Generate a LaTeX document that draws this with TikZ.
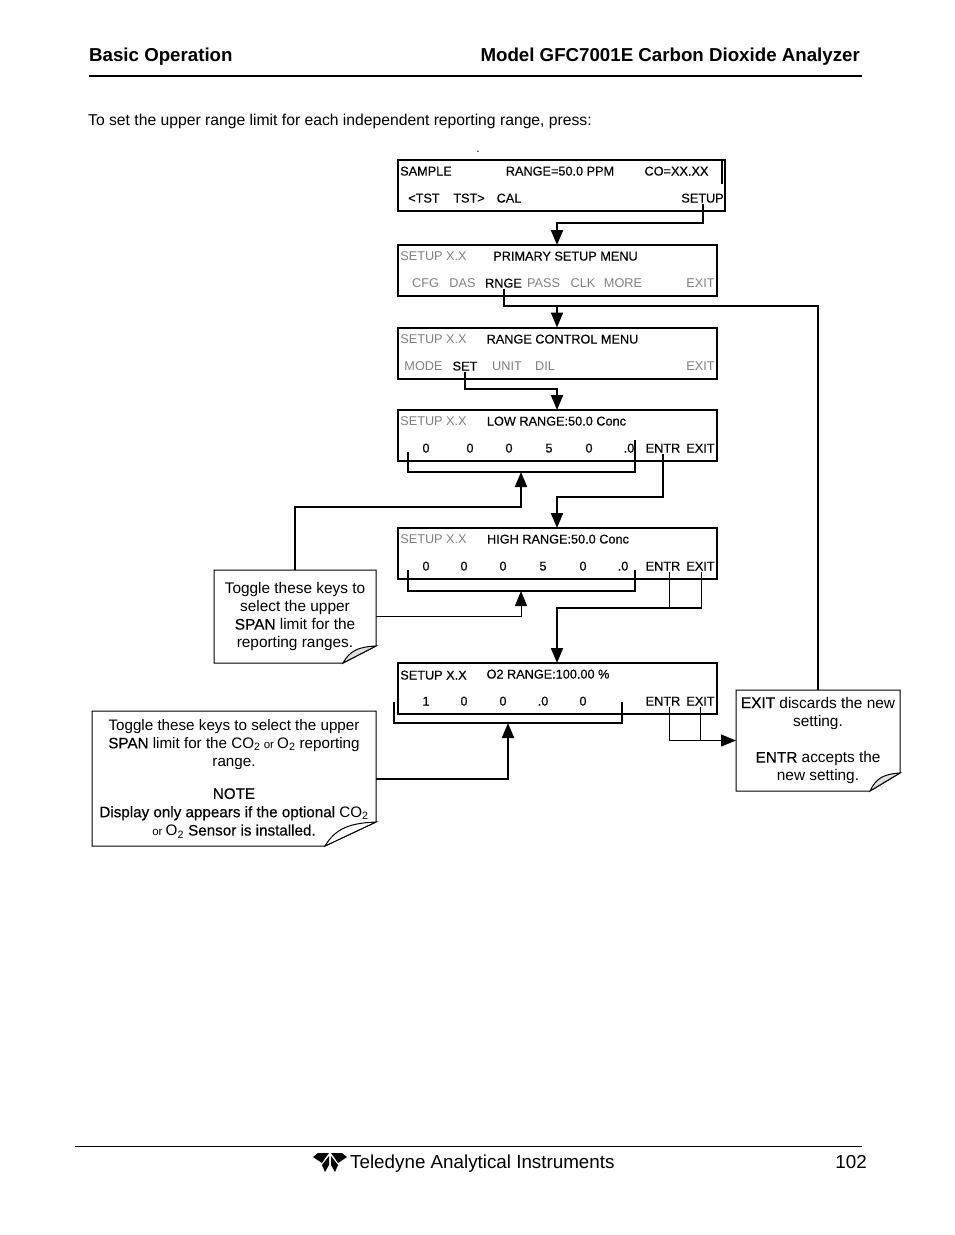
\documentclass[tikz,border=0pt]{standalone}
\usepackage{fontspec}
\setmainfont{Liberation Sans}
\newfontface\heavy[FakeBold=0.4]{Liberation Sans}
\usetikzlibrary{arrows.meta}
\definecolor{lcdgray}{gray}{0.5}
\tikzset{
    lcdbox/.style={draw,line width=2pt,anchor=north west,minimum width=319pt,minimum height=51pt,inner sep=0pt,outer sep=0pt},
    lcdkey/.style={anchor=base,inner sep=0pt,outer sep=1.5pt,font=\fontsize{12.7}{14}\selectfont\heavy},
    lcdoff/.style={anchor=base,inner sep=0pt,outer sep=1.5pt,font=\fontsize{12.7}{14}\selectfont,text=lcdgray},
    wire/.style={line width=2pt},
    thinwire/.style={line width=1pt},
    tip/.style={-{Triangle[width=12pt,length=15pt]}},
    notebox/.style={align=center,inner sep=0pt,outer sep=0pt,font=\fontsize{15.4}{18.3}\selectfont},
}
\newcommand{\foldnote}[4]{%
    \draw[line width=1pt] (#1.north west) -- (#1.north east) -- ([yshift=#3]#1.south east)
        -- ([xshift=-#2]#1.south east) -- (#1.south west) -- cycle;
    \draw[line width=1pt,fill=#4] ([yshift=#3]#1.south east) .. controls ([xshift=-#2*0.55,yshift=#3*0.95]#1.south east)
        and ([xshift=-#2*0.8,yshift=#3*0.7]#1.south east) .. ([xshift=-#2]#1.south east) -- cycle;
}
\begin{document}
\begin{tikzpicture}[x=1pt,y=-1pt]
    \useasboundingbox (0,0) rectangle (954,1235);
    % header and footer
    \node[anchor=base west,inner sep=0pt,font=\fontsize{18.7}{20}\selectfont\bfseries] (pagehead) at (89,61) {Basic Operation};
    \node[anchor=base east,inner sep=0pt,font=\fontsize{18.7}{20}\selectfont\bfseries] (modelhead) at (860,61) {Model GFC7001E Carbon Dioxide Analyzer};
    \draw[line width=1.5pt] (89,76) -- (862,76);
    \node[anchor=base west,inner sep=0pt,font=\fontsize{15.7}{18}\selectfont] (intro) at (88,125) {To set the upper range limit for each independent reporting range, press:};
    \node[anchor=base,inner sep=0pt,font=\fontsize{12}{14}\selectfont] (dot) at (478,152) {.};
    \draw[line width=1pt] (75,1146) -- (862,1146);
    \fill (329,1153) -- (318,1153) -- (313,1157) -- (322,1163) -- (326,1157) -- cycle;
    \fill (331,1153) -- (342,1153) -- (347,1157) -- (338,1163) -- (334,1157) -- cycle;
    \fill (329,1156) -- (322,1165) -- (325,1172) -- (329,1165) -- cycle;
    \fill (331,1156) -- (338,1165) -- (335,1172) -- (331,1165) -- cycle;
    \node[anchor=base west,inner sep=0pt,font=\fontsize{18.8}{20}\selectfont] (company) at (350,1168) {Teledyne Analytical Instruments};
    \node[anchor=base east,inner sep=0pt,font=\fontsize{18.8}{20}\selectfont] (pageno) at (867,1168) {102};

    % displays
    \node[lcdbox,minimum width=327pt] (sample) at (398,160) {};
    \node[lcdbox] (primary) at (398,245) {};
    \node[lcdbox] (control) at (398,327.5) {};
    \node[lcdbox] (lowrange) at (398,410) {};
    \node[lcdbox] (highrange) at (398,528) {};
    \node[lcdbox] (otworange) at (398,663) {};
    \draw[wire] ([xshift=-3pt]sample.north east) -- ++(0,24);

    % sample display
    \node[lcdkey] (samplename) at (426,175.5) {SAMPLE};
    \node[lcdkey] (samplerange) at (560,175.5) {RANGE=50.0 PPM};
    \node[lcdkey] (sampleco) at (676.5,175.5) {CO=XX.XX};
    \node[lcdkey] (keytstl) at (424,202.5) {<TST};
    \node[lcdkey] (keytstr) at (469,202.5) {TST>};
    \node[lcdkey] (keycal) at (509,202.5) {CAL};
    \node[lcdkey] (keysetup) at (702.5,202.5) {SETUP};

    % primary setup display
    \node[lcdoff] (primaryname) at (433.5,260.5) {SETUP X.X};
    \node[lcdkey] (primarytitle) at (565.5,260.5) {PRIMARY SETUP MENU};
    \node[lcdoff] (keycfg) at (425.5,287.5) {CFG};
    \node[lcdoff] (keydas) at (462.5,287.5) {DAS};
    \node[lcdkey] (keyrnge) at (503.5,287.5) {RNGE};
    \node[lcdoff] (keypass) at (543.5,287.5) {PASS};
    \node[lcdoff] (keyclk) at (583,287.5) {CLK};
    \node[lcdoff] (keymore) at (623,287.5) {MORE};
    \node[lcdoff] (keyexita) at (700.5,287.5) {EXIT};

    % range control display
    \node[lcdoff] (controlname) at (433.5,343.5) {SETUP X.X};
    \node[lcdkey] (controltitle) at (562.5,343.5) {RANGE CONTROL MENU};
    \node[lcdoff] (keymode) at (423.5,370.5) {MODE};
    \node[lcdkey] (keyset) at (465,370.5) {SET};
    \node[lcdoff] (keyunit) at (507,370.5) {UNIT};
    \node[lcdoff] (keydil) at (545,370.5) {DIL};
    \node[lcdoff] (keyexitb) at (700.5,370.5) {EXIT};

    % low range display
    \node[lcdoff] (lowname) at (433.5,425.5) {SETUP X.X};
    \node[lcdkey] (lowtitle) at (556.5,425.5) {LOW RANGE:50.0 Conc};
    \node[lcdkey] (lowa) at (426,452.5) {0};
    \node[lcdkey] (lowb) at (470,452.5) {0};
    \node[lcdkey] (lowc) at (509,452.5) {0};
    \node[lcdkey] (lowd) at (549,452.5) {5};
    \node[lcdkey] (lowe) at (589,452.5) {0};
    \node[lcdkey] (lowf) at (629,452.5) {.0};
    \node[lcdkey] (keyentrl) at (663,452.5) {ENTR};
    \node[lcdkey] (keyexitl) at (700.5,452.5) {EXIT};

    % high range display
    \node[lcdoff] (highname) at (433.5,543.5) {SETUP X.X};
    \node[lcdkey] (hightitle) at (558,543.5) {HIGH RANGE:50.0 Conc};
    \node[lcdkey] (higha) at (426,570.5) {0};
    \node[lcdkey] (highb) at (464,570.5) {0};
    \node[lcdkey] (highc) at (503,570.5) {0};
    \node[lcdkey] (highd) at (543,570.5) {5};
    \node[lcdkey] (highe) at (583,570.5) {0};
    \node[lcdkey] (highf) at (623,570.5) {.0};
    \node[lcdkey] (keyentrh) at (663,570.5) {ENTR};
    \node[lcdkey] (keyexith) at (700.5,570.5) {EXIT};

    % o2 range display
    \node[lcdkey] (otwoname) at (433.5,679.5) {SETUP X.X};
    \node[lcdkey] (otwotitle) at (548,678.5) {O2 RANGE:100.00 \%};
    \node[lcdkey] (otwoa) at (426,705.5) {1};
    \node[lcdkey] (otwob) at (464,705.5) {0};
    \node[lcdkey] (otwoc) at (503,705.5) {0};
    \node[lcdkey] (otwod) at (543,705.5) {.0};
    \node[lcdkey] (otwoe) at (583,705.5) {0};
    \node[lcdkey] (keyentro) at (663,705.5) {ENTR};
    \node[lcdkey] (keyexito) at (700.5,705.5) {EXIT};

    % notes
    \node[notebox,minimum width=162pt,minimum height=93pt] (spannote) at (295,616.5) {Toggle these keys to\\select the upper\\{\heavy SPAN} limit for the\\reporting ranges.};
    \node[notebox,font=\fontsize{15.2}{18.3}\selectfont,minimum width=284pt,minimum height=135pt] (rangenote) at (234,778.5) {Toggle these keys to select the upper\\{\heavy SPAN} limit for the CO\textsubscript{2}{\fontsize{11.5}{12}\selectfont\ or }O\textsubscript{2} reporting\\range.\\[14pt]{\heavy NOTE}\\{\heavy Display only appears if the optional} CO\textsubscript{2}\\{\fontsize{11.5}{12}\selectfont or }O\textsubscript{2} {\heavy Sensor is installed.}};
    \node[notebox,minimum width=164pt,minimum height=101pt] (exitnote) at (818,740.5) {{\heavy EXIT} discards the new\\setting.\\[18pt]{\heavy ENTR} accepts the\\new setting.};
    \foldnote{spannote}{33pt}{17pt}{gray!25}
    \foldnote{rangenote}{51pt}{24pt}{white}
    \foldnote{exitnote}{30pt}{18pt}{gray!25}

    % turning points
    \coordinate (busa) at (557,223);
    \coordinate (busb) at (557,306);
    \coordinate (busc) at (557,389);
    \coordinate (busd) at (557,497);
    \coordinate (buse) at (557,608);
    \coordinate (lowleft) at (408,452);
    \coordinate (lowright) at (635,440);
    \coordinate (lowmid) at (521,472);
    \coordinate (highleft) at (408,570);
    \coordinate (highright) at (635,570);
    \coordinate (highmid) at (521,591);
    \coordinate (otwoleft) at (394,702);
    \coordinate (otworight) at (622,702);
    \coordinate (otwomid) at (508,723);
    \coordinate (spanturn) at (521,507);

    % menu flow
    \draw[wire,tip] (keysetup.south) |- (busa) -- (primary.north -| busa);
    \draw[wire] (keyrnge.south) |- (busb) -| (exitnote.north);
    \draw[wire,tip] (busb) -- (control.north -| busb);
    \draw[wire,tip] (keyset.south) |- (busc) -- (lowrange.north -| busc);
    \draw[wire,tip] (keyentrl.south) |- (busd) -- (highrange.north -| busd);
    \draw[thinwire] ([xshift=6pt]keyentrh.south) |- (buse);
    \draw[thinwire] ([xshift=1pt]keyexith.south) -- ([xshift=1pt]keyexith.south |- buse);
    \draw[wire,tip] ([xshift=1pt]keyexith.south |- buse) -- (buse) -- (otworange.north -| buse);
    \draw[thinwire,tip] ([xshift=6pt]keyentro.south) |- (exitnote.west);
    \draw[thinwire] (keyexito.south) -- (keyexito.south |- exitnote.west);

    % digit brackets
    \draw[wire] (lowleft) |- (lowmid) -| (lowright);
    \draw[wire] (highleft) |- (highmid) -| (highright);
    \draw[wire] (otwoleft) |- (otwomid) -| (otworight);

    % note arrows
    \draw[wire,tip] (spannote.north) |- (spanturn) -- (lowmid);
    \draw[thinwire,tip] (spannote.east) -| (highmid);
    \draw[wire,tip] (rangenote.east) -| (otwomid);
\end{tikzpicture}
\end{document}
